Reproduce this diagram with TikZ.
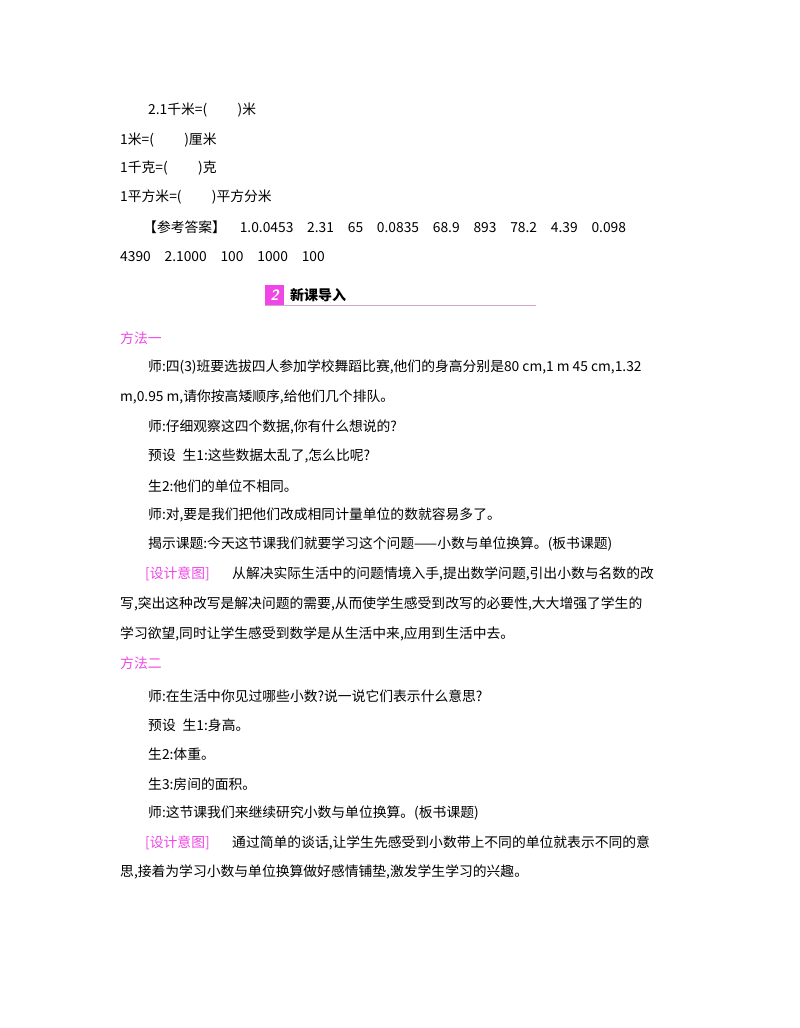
\documentclass[tikz,border=0pt]{standalone}
\usepackage{fontspec}
\newfontfamily\cjk{Noto Sans CJK SC}
\begin{document}
\begin{tikzpicture}[x=1pt,y=-1pt,
  t/.style={anchor=west,inner sep=0pt,font=\cjk\fontsize{13.8}{14}\selectfont},
  pkt/.style={t,text=pk}]
\definecolor{pk}{RGB}{240,70,230}
\useasboundingbox (0,0) rectangle (800,1028);
\node[t] (l1) at (148,110) {2.1千米=(\hspace{2.2em})米};
\node[t] (l2) at (120,140) {1米=(\hspace{2.2em})厘米};
\node[t] (l3) at (120,168) {1千克=(\hspace{2.2em})克};
\node[t] (l4) at (120,197) {1平方米=(\hspace{2.2em})平方分米};
\node[t] (l5) at (143,227) {【参考答案】\hspace{1em}1.0.0453\hspace{1em}2.31\hspace{1em}65\hspace{1em}0.0835\hspace{1em}68.9\hspace{1em}893\hspace{1em}78.2\hspace{1em}4.39\hspace{1em}0.098};
\node[t] (l6) at (120,257) {4390\hspace{1em}2.1000\hspace{1em}100\hspace{1em}1000\hspace{1em}100};
\fill[pk] (265,285) rectangle (284,305);
\node[anchor=center,inner sep=0pt,text=white,font=\sffamily\bfseries\itshape\fontsize{15}{15}\selectfont] (n2) at (274.5,295) {2};
\node[t,font=\cjk\bfseries\fontsize{14}{14}\selectfont] (hd) at (290,295) {新课导入};
\draw[pk!40!gray!60,line width=0.8pt] (265,305.5) -- (536,305.5);
\node[pkt] (m1) at (120,338) {方法一};
\node[t] (a1) at (148,367) {师:四(3)班要选拔四人参加学校舞蹈比赛,他们的身高分别是80 cm,1 m 45 cm,1.32};
\node[t] (a2) at (120,397) {m,0.95 m,请你按高矮顺序,给他们几个排队。};
\node[t] (a3) at (148,427) {师:仔细观察这四个数据,你有什么想说的?};
\node[t] (a4) at (148,456) {预设\hspace{0.5em}生1:这些数据太乱了,怎么比呢?};
\node[t] (a5) at (148,486) {生2:他们的单位不相同。};
\node[t] (a6) at (148,515) {师:对,要是我们把他们改成相同计量单位的数就容易多了。};
\node[t] (a7) at (148,544) {揭示课题:今天这节课我们就要学习这个问题——小数与单位换算。(板书课题)};
\node[pkt] (d1) at (145,574) {[设计意图]};
\node[t] (a8) at (232,574) {从解决实际生活中的问题情境入手,提出数学问题,引出小数与名数的改};
\node[t] (a9) at (120,604) {写,突出这种改写是解决问题的需要,从而使学生感受到改写的必要性,大大增强了学生的};
\node[t] (a10) at (120,634) {学习欲望,同时让学生感受到数学是从生活中来,应用到生活中去。};
\node[pkt] (m2) at (120,663) {方法二};
\node[t] (b1) at (148,696) {师:在生活中你见过哪些小数?说一说它们表示什么意思?};
\node[t] (b2) at (148,725) {预设\hspace{0.5em}生1:身高。};
\node[t] (b3) at (148,754) {生2:体重。};
\node[t] (b4) at (148,784) {生3:房间的面积。};
\node[t] (b5) at (148,813) {师:这节课我们来继续研究小数与单位换算。(板书课题)};
\node[pkt] (d2) at (145,843) {[设计意图]};
\node[t] (b6) at (232,843) {通过简单的谈话,让学生先感受到小数带上不同的单位就表示不同的意};
\node[t] (b7) at (120,872) {思,接着为学习小数与单位换算做好感情铺垫,激发学生学习的兴趣。};
\end{tikzpicture}
\end{document}
